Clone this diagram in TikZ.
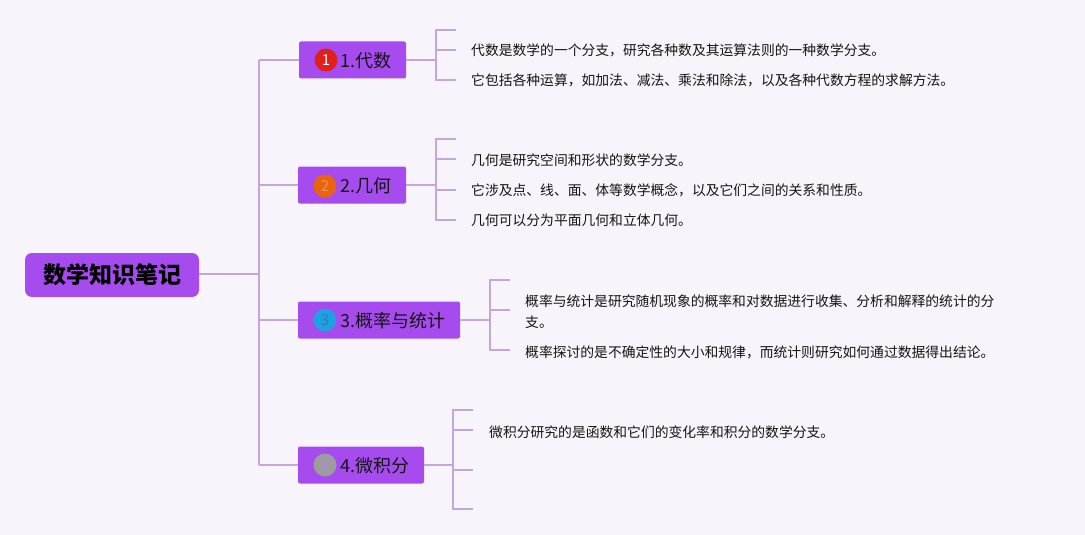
\documentclass[tikz,border=0pt]{standalone}
\usepackage{fontspec}
\setmainfont{Noto Sans CJK SC}
\definecolor{bgc}{HTML}{F8F4FC}
\definecolor{boxc}{HTML}{A64CEE}
\definecolor{linec}{HTML}{C6A6DA}
\definecolor{txtc}{HTML}{141414}
\definecolor{redc}{HTML}{E0201A}
\definecolor{orc}{HTML}{E8650F}
\definecolor{ornum}{HTML}{F29050}
\definecolor{bluec}{HTML}{1FA0E0}
\definecolor{bluenum}{HTML}{2A80C8}
\definecolor{grayc}{HTML}{9C9C9C}
\definecolor{graynum}{HTML}{B48AD8}
\tikzset{
  rootbox/.style={fill=boxc, rounded corners=7pt, minimum width=174pt, minimum height=44pt, inner sep=0pt,
    font=\fontsize{23}{26}\selectfont\bfseries, text=black},
  branchbox/.style={fill=boxc, rounded corners=2pt, minimum height=37pt, inner sep=0pt},
  branchtxt/.style={anchor=west, inner sep=0pt, font=\fontsize{18}{20}\selectfont, text=txtc},
  badge/.style={circle, minimum size=23pt, inner sep=0pt, font=\fontsize{15}{15}\selectfont},
  leaf/.style={anchor=west, inner sep=0pt, align=left, font=\fontsize{13.8}{21}\selectfont, text=txtc},
  conn/.style={draw=linec, line width=1.4pt},
}
\begin{document}
\begin{tikzpicture}[x=1pt,y=-1pt]
\useasboundingbox (0,0) rectangle (1085,535);
\fill[bgc] (0,0) rectangle (1085,535);

% root
\node[rootbox] (root) at (112,275) {数学知识笔记};

% branch boxes
\node[branchbox, minimum width=107pt] (b1) at (352.5,60) {};
\node[branchbox, minimum width=108pt] (b2) at (352,185) {};
\node[branchbox, minimum width=162pt] (b3) at (379,320) {};
\node[branchbox, minimum width=126pt] (b4) at (361,465) {};

\node[badge, fill=redc, text=white] (c1) at (326,60) {1};
\node[badge, fill=orc, text=ornum] (c2) at (325,186) {2};
\node[badge, fill=bluec, text=bluenum] (c3) at (325,320) {3};
\node[badge, fill=grayc, text=graynum] (c4) at (325,465) {4};

\node[branchtxt] (t1) at (340,61) {1.代数};
\node[branchtxt] (t2) at (340,186) {2.几何};
\node[branchtxt] (t3) at (340,321) {3.概率与统计};
\node[branchtxt] (t4) at (340,466) {4.微积分};

% trunk
\coordinate (j0) at (259,274);
\coordinate (j1) at (259,60);
\coordinate (j2) at (259,185);
\coordinate (j3) at (259,320);
\coordinate (j4) at (259,465);
\draw[conn] (root.east |- j0) -- (j0);
\draw[conn] (j1) -- (j4);
\draw[conn] (j1) -- (b1.west);
\draw[conn] (j2) -- (b2.west);
\draw[conn] (j3) -- (b3.west);
\draw[conn] (j4) -- (b4.west);

% bracket 1
\coordinate (k1) at (436,60);
\coordinate (k1a) at (436,30);
\coordinate (k1b) at (436,80);
\coordinate (e1a) at (456,30);
\coordinate (e1b) at (456,50);
\coordinate (e1c) at (456,80);
\draw[conn] (b1.east) -- (k1);
\draw[conn] (e1a) -- (k1a) -- (k1b) -- (e1c);
\draw[conn] (k1a |- e1b) -- (e1b);
\node[leaf] (l11) at (471,50) {代数是数学的一个分支，研究各种数及其运算法则的一种数学分支。};
\node[leaf] (l12) at (471,80) {它包括各种运算，如加法、减法、乘法和除法，以及各种代数方程的求解方法。};

% bracket 2
\coordinate (k2) at (436,185);
\coordinate (k2a) at (436,139);
\coordinate (k2b) at (436,220);
\coordinate (e2a) at (456,139);
\coordinate (e2b) at (456,159);
\coordinate (e2c) at (456,190);
\coordinate (e2d) at (456,220);
\draw[conn] (b2.east) -- (k2);
\draw[conn] (e2a) -- (k2a) -- (k2b) -- (e2d);
\draw[conn] (k2a |- e2b) -- (e2b);
\draw[conn] (k2a |- e2c) -- (e2c);
\node[leaf] (l21) at (471,160) {几何是研究空间和形状的数学分支。};
\node[leaf] (l22) at (471,190) {它涉及点、线、面、体等数学概念，以及它们之间的关系和性质。};
\node[leaf] (l23) at (471,220) {几何可以分为平面几何和立体几何。};

% bracket 3
\coordinate (k3) at (490,320);
\coordinate (k3a) at (490,280);
\coordinate (k3b) at (490,350);
\coordinate (e3a) at (510,280);
\coordinate (e3b) at (510,310);
\coordinate (e3c) at (510,350);
\draw[conn] (b3.east) -- (k3);
\draw[conn] (e3a) -- (k3a) -- (k3b) -- (e3c);
\draw[conn] (k3a |- e3b) -- (e3b);
\node[leaf] (l31) at (525,312) {概率与统计是研究随机现象的概率和对数据进行收集、分析和解释的统计的分\\支。};
\node[leaf] (l32) at (525,352) {概率探讨的是不确定性的大小和规律，而统计则研究如何通过数据得出结论。};

% bracket 4
\coordinate (k4) at (453,465);
\coordinate (k4a) at (453,410);
\coordinate (k4b) at (453,509);
\coordinate (e4a) at (473,410);
\coordinate (e4b) at (473,430);
\coordinate (e4c) at (473,470);
\coordinate (e4d) at (473,509);
\draw[conn] (b4.east) -- (k4);
\draw[conn] (e4a) -- (k4a) -- (k4b) -- (e4d);
\draw[conn] (k4a |- e4b) -- (e4b);
\draw[conn] (k4a |- e4c) -- (e4c);
\node[leaf] (l41) at (489,432) {微积分研究的是函数和它们的变化率和积分的数学分支。};
\end{tikzpicture}
\end{document}
